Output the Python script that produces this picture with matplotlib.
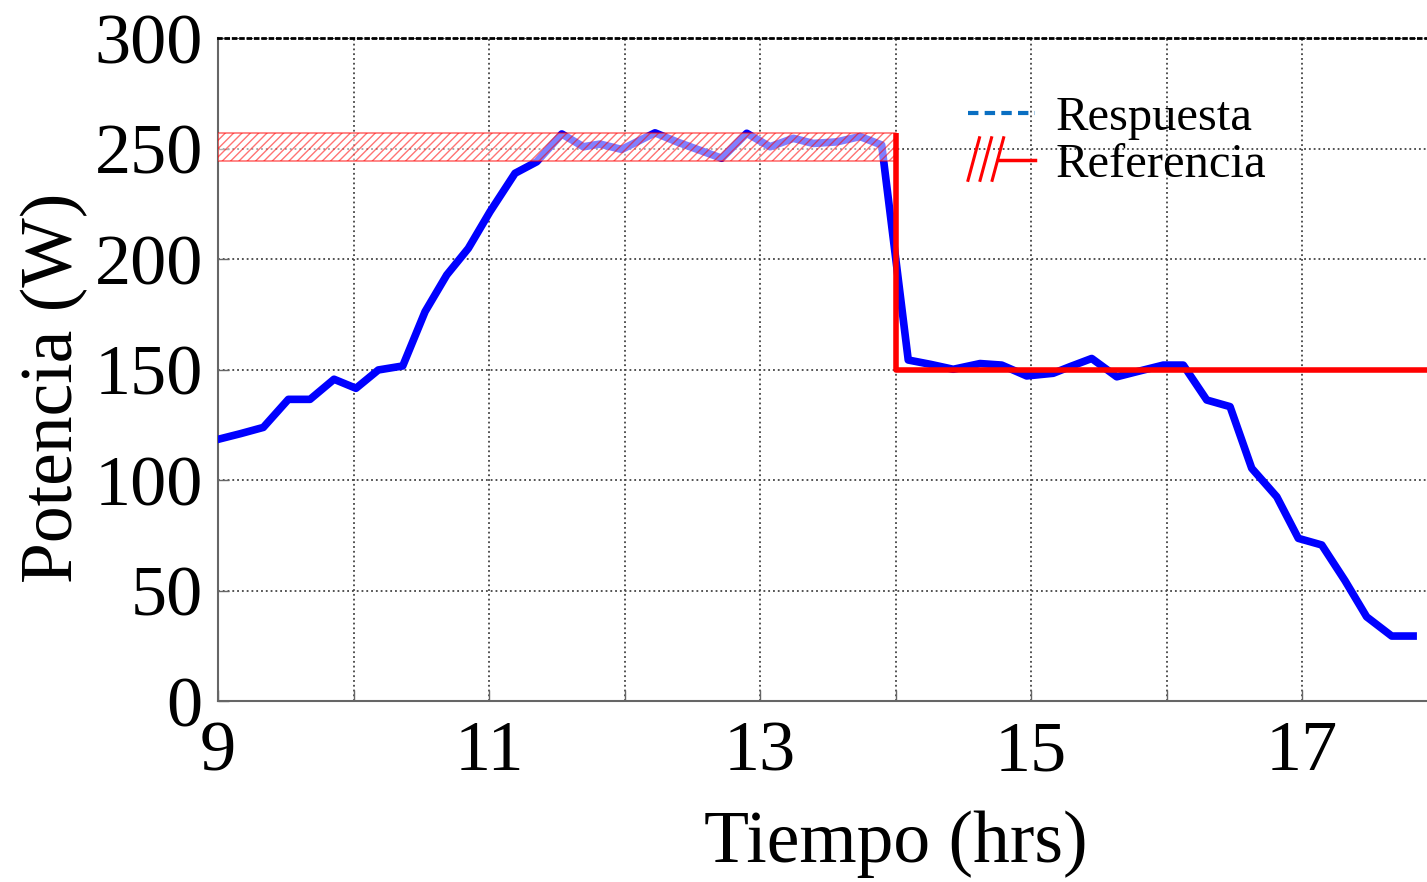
import numpy as np
import matplotlib
matplotlib.use('Agg')
import matplotlib.pyplot as plt
from matplotlib.lines import Line2D
from matplotlib.legend_handler import HandlerBase

# respuesta (blue), hours / watts
t_resp = [9.000, 9.167, 9.334, 9.519, 9.679, 9.856, 10.018, 10.183, 10.363,
          10.528, 10.688, 10.847, 11.007, 11.192, 11.352, 11.537, 11.696,
          11.819, 11.979, 12.225, 12.395, 12.717, 12.902, 13.074, 13.246,
          13.393, 13.566, 13.738, 13.898, 14.094, 14.262, 14.426, 14.624,
          14.784, 14.968, 15.164, 15.288, 15.448, 15.633, 15.780, 15.976,
          16.124, 16.297, 16.469, 16.629, 16.814, 16.973, 17.146, 17.317,
          17.477, 17.662, 17.820]
p_resp = [118.4, 121.0, 123.8, 136.5, 136.5, 145.6, 141.5, 149.8, 151.6,
          176.2, 192.8, 204.8, 221.4, 238.8, 244.0, 256.6, 250.8,
          252.0, 249.6, 257.1, 252.8, 245.6, 256.9, 250.8, 254.6,
          252.3, 253.0, 255.4, 251.6, 154.3, 152.3, 150.1, 152.7,
          152.0, 147.1, 148.3, 151.3, 155.0, 146.7, 149.0, 152.0,
          152.0, 136.2, 133.2, 105.3, 92.4, 73.6, 70.6, 54.5,
          38.1, 29.4, 29.4]

# referencia (red step) and tolerance band
t_ref = [14.0, 14.0, 19.0]
p_ref = [256.9, 150.0, 150.0]
t_band = [9.0, 14.0]
band_lo = 244.3
band_hi = 256.9

x_ticks = list(range(9, 20))
x_labels = ['9', '', '11', '', '13', '', '15', '', '17', '', '']
y_ticks = [0, 50, 100, 150, 200, 250, 300]

plt.rcParams['font.family'] = ['Liberation Serif', 'DejaVu Serif']


class RefHandler(HandlerBase):
    # red slashes and a line, like the original legend glyph
    def create_artists(self, legend, orig_handle, xdescent, ydescent,
                       width, height, fontsize, trans):
        arts = []
        x0 = -xdescent
        y0 = -ydescent - 0.1 * height
        y1 = -ydescent + 1.15 * height
        step = width * 0.18
        for i in range(3):
            xa = x0 + i * step
            arts.append(Line2D([xa, xa + step * 0.95], [y0, y1], color='red',
                               lw=2.2, transform=trans))
        ym = -ydescent + 0.5 * height
        arts.append(Line2D([x0 + 2.5 * step, x0 + width], [ym, ym],
                           color='red', lw=2.5, transform=trans))
        return arts


fig = plt.figure(figsize=(14.27, 8.82), dpi=100)
# the original axes run to 19 h, the image cuts them near 17.9 h
ax = fig.add_axes([0.1528, 0.2052, 0.9495, 0.7517])

ax.plot(t_resp, p_resp, color='#0000ff', lw=5.5, zorder=3,
        solid_joinstyle='round')
ax.plot(t_ref, p_ref, color='#ff0000', lw=4, zorder=5,
        solid_capstyle='butt')
ax.fill_between(t_band, band_lo, band_hi, facecolor=(1, 1, 1, 0.5),
                edgecolor=(1, 0, 0, 0.55), hatch='////', lw=1.2, zorder=4)

ax.set_xlim(9, 19)
ax.set_ylim(0, 300)
ax.set_xticks(x_ticks)
ax.set_xticklabels(x_labels)
ax.set_yticks(y_ticks)
ax.grid(True, ls=':', color='#444444', lw=1.3)
ax.tick_params(direction='in', length=8, width=1, colors='#666666',
               labelsize=52, labelcolor='black')
ax.tick_params(axis='x', pad=14)
ax.tick_params(axis='y', pad=11)

for s in ['left', 'bottom']:
    ax.spines[s].set_color('#666666')
    ax.spines[s].set_linewidth(1.5)
ax.spines['right'].set_visible(False)
ax.spines['top'].set_linestyle(':')
ax.spines['top'].set_linewidth(2)
ax.spines['top'].set_color('black')

ax.set_xlabel('Tiempo (hrs)', fontsize=53, labelpad=18)
ax.set_ylabel('Potencia (W)', fontsize=53)
ax.yaxis.set_label_coords(-0.096, 0.472)

h_resp = Line2D([], [], color='#0a6fc2', lw=3, dashes=(2.5, 1.5))
h_ref = Line2D([], [], color='red')
ax.legend([h_resp, h_ref], ['Respuesta', 'Referencia'],
          handler_map={h_ref: RefHandler()},
          loc='upper left', bbox_to_anchor=(0.5535, 0.913), frameon=False,
          fontsize=35, handlelength=1.38, handletextpad=0.42,
          labelspacing=0.065, borderpad=0, borderaxespad=0)

fig.savefig('out.png', dpi=100)
